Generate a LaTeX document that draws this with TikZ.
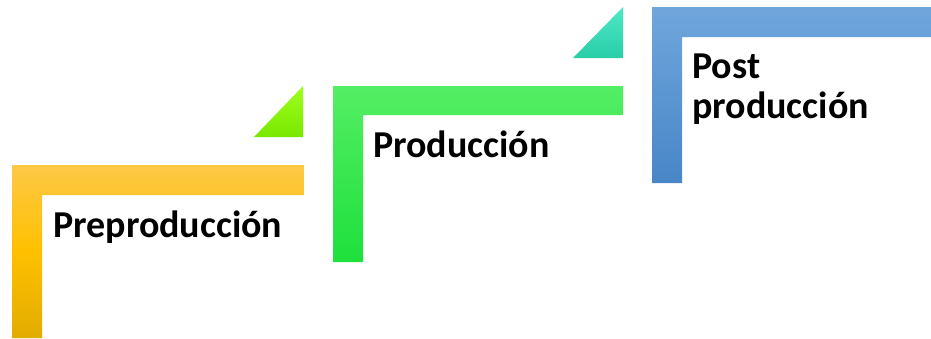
\documentclass[tikz,border=0pt]{standalone}
\usepackage{fontspec}
\setmainfont{Carlito}
\begin{document}
\begin{tikzpicture}[x=1pt,y=-1pt,
  lbl/.style={anchor=base west,inner sep=0pt,font=\bfseries\fontsize{38}{40}\selectfont,text=black}]
\useasboundingbox[fill=white] (0,0) rectangle (931,338);
% orange L
\shade[top color={rgb,255:red,253;green,200;blue,70},bottom color={rgb,255:red,226;green,172;blue,0},middle color={rgb,255:red,255;green,192;blue,0}]
  (12,338) -- (12,165) -- (304,165) -- (304,195) -- (42,195) -- (42,338) -- cycle;
% green triangle
\shade[top color={rgb,255:red,160;green,255;blue,30},bottom color={rgb,255:red,120;green,232;blue,0}]
  (254,137) -- (303,86) -- (303,137) -- cycle;
% green L
\shade[top color={rgb,255:red,84;green,238;blue,100},bottom color={rgb,255:red,30;green,224;blue,60}]
  (333,262) -- (333,86) -- (623,86) -- (623,115) -- (363,115) -- (363,262) -- cycle;
% teal triangle
\shade[top color={rgb,255:red,80;green,232;blue,198},bottom color={rgb,255:red,40;green,206;blue,168}]
  (573,58) -- (623,7) -- (623,58) -- cycle;
% blue L
\shade[top color={rgb,255:red,112;green,166;blue,220},bottom color={rgb,255:red,72;green,134;blue,200}]
  (652,183) -- (652,7) -- (931,7) -- (931,37) -- (682,37) -- (682,183) -- cycle;
\node[lbl] (pre) at (53,237) {Preproducción};
\node[lbl] (pro) at (373,157) {Producción};
\node[lbl,align=left] (post) at (692,118) {Post\\producción};
\end{tikzpicture}
\end{document}
